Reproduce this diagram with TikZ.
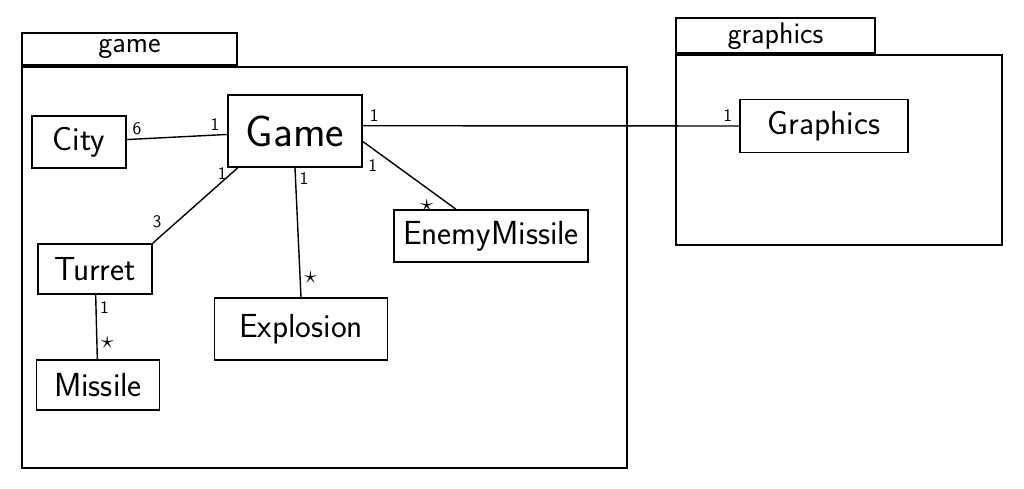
\documentclass[tikz,border=0pt]{standalone}
\usepackage{fontspec}
\usetikzlibrary{positioning}
\tikzset{
  classbox/.style={rectangle, draw, line width=1pt, inner sep=3pt, font=\sffamily\fontsize{19}{21}\selectfont},
  pkgbody/.style={rectangle, draw, line width=1pt, inner sep=0pt},
  pkgtab/.style={rectangle, draw, line width=1pt, inner sep=0pt, anchor=south west, font=\sffamily\fontsize{17}{19}\selectfont},
  assoc/.style={line width=0.8pt},
  mult/.style={font=\sffamily\normalsize, inner sep=2pt}
}
\newcommand{\many}{{\Large$\star$}}

\begin{document}
\begin{tikzpicture}[x=0.02cm, y=-0.02cm]
  \useasboundingbox (0,0) rectangle (1024,489);

  % packages
  \node[pkgbody, minimum width=12.1cm, minimum height=8.02cm] (gamePkg) at (324.5,267.5) {};
  \node[pkgtab, minimum width=4.3cm, minimum height=0.64cm] (gameTab) at (gamePkg.north west) {game};
  \node[pkgbody, minimum width=6.52cm, minimum height=3.8cm] (gfxPkg) at (839,150) {};
  \node[pkgtab, minimum width=3.98cm, minimum height=0.7cm] (gfxTab) at (gfxPkg.north west) {graphics};

  % classes
  \node[classbox, minimum width=2.68cm, minimum height=1.44cm, font=\sffamily\fontsize{25}{28}\selectfont] (Game) at (295,131) {Game};
  \node[classbox, minimum width=1.88cm, minimum height=1.04cm] (City) at (79,142) {City};
  \node[classbox, minimum width=2.28cm, minimum height=1.0cm] (Turret) at (95,269) {Turret};
  \node[classbox, minimum width=2.46cm, minimum height=1.0cm] (Missile) at (98,385) {Missile};
  \node[classbox, minimum width=3.46cm, minimum height=1.24cm] (Explosion) at (301,329) {Explosion};
  \node[classbox, minimum width=3.88cm, minimum height=1.04cm] (EnemyMissile) at (491,236) {EnemyMissile};
  \node[classbox, minimum width=3.36cm, minimum height=1.06cm] (Graphics) at (824,126) {Graphics};

  % associations
  \draw[assoc] (City) -- (Game)
    node[mult, pos=0.1, above] {6}
    node[mult, pos=0.88, above] {1};
  \draw[assoc] ([xshift=6pt]Game.south west) -- (Turret.north east)
    node[mult, pos=0.08, left] {1}
    node[mult, pos=0.85, above left] {3};
  \draw[assoc] (Game.south) -- (Explosion.north)
    node[mult, pos=0.08, right] {1}
    node[mult, pos=0.85, right] {\many};
  \draw[assoc] ([yshift=-6pt]Game.east) -- ([xshift=-20pt]EnemyMissile.north)
    node[mult, pos=0.2, below left] {1}
    node[mult, pos=0.8, below left] {\many};
  \draw[assoc] ([yshift=3pt]Game.east) -- (Graphics.west)
    node[mult, pos=0.03, above] {1}
    node[mult, pos=0.97, above] {1};
  \draw[assoc] (Turret) -- (Missile)
    node[mult, pos=0.2, right] {1}
    node[mult, pos=0.75, right] {\many};
\end{tikzpicture}
\end{document}
